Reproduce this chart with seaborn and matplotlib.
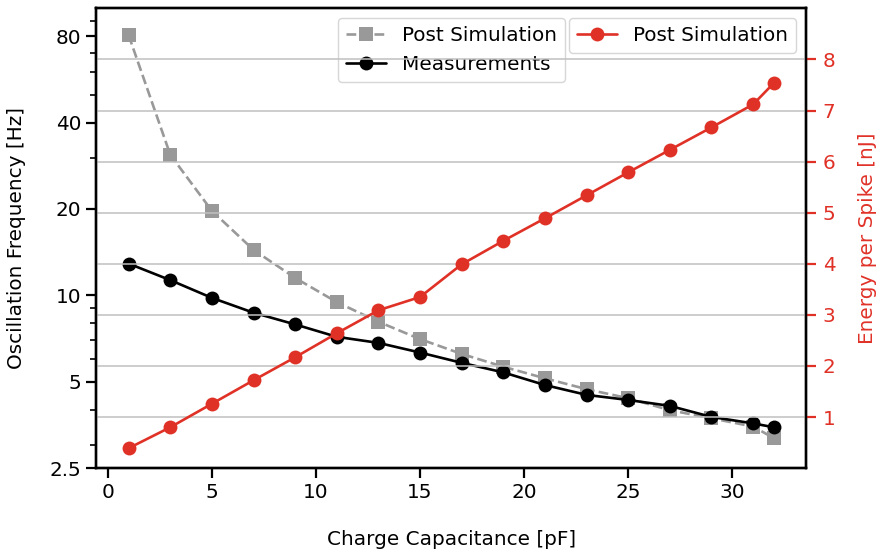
import numpy as np
import pandas as pd
import matplotlib
matplotlib.use("Agg")
import matplotlib.pyplot as plt
from matplotlib.ticker import NullFormatter, FixedLocator, LogLocator
import seaborn as sns

# Charge capacitance sweep [pF]
capacitance = [1, 3, 5, 7, 9, 11, 13, 15, 17, 19, 21, 23, 25, 27, 29, 31, 32]

# Oscillation frequency [Hz]
freq_simulation = [80.6, 30.9, 19.7, 14.4, 11.5, 9.47, 8.09, 7.04, 6.25, 5.64,
                   5.14, 4.71, 4.38, 3.98, 3.73, 3.49, 3.18]
freq_measured = [12.9, 11.3, 9.80, 8.70, 7.92, 7.17, 6.83, 6.32, 5.82, 5.39,
                 4.87, 4.50, 4.32, 4.12, 3.77, 3.58, 3.47]

# Energy per spike [nJ]
energy_simulation = [0.39, 0.80, 1.26, 1.72, 2.17, 2.64, 3.09, 3.35, 3.99, 4.45,
                     4.89, 5.34, 5.79, 6.23, 6.67, 7.12, 7.54]

freq_ticks = [2.5, 5, 10, 20, 40, 80]
freq_tick_labels = ["2.5", "5", "10", "20", "40", "80"]
energy_ticks = [1, 2, 3, 4, 5, 6, 7, 8]
x_ticks = [0, 5, 10, 15, 20, 25, 30]

RED = "#e03127"
GRAY = "#999999"
FS = 14.4

sns.set_style("ticks")
plt.rcParams["font.family"] = ["DejaVu Sans"]
plt.rcParams["font.size"] = FS
plt.rcParams["text.color"] = "black"
plt.rcParams["axes.labelcolor"] = "black"
plt.rcParams["xtick.color"] = "black"
plt.rcParams["ytick.color"] = "black"
plt.rcParams["legend.edgecolor"] = "0.8"

df = pd.DataFrame({
    "C": capacitance,
    "f_sim": freq_simulation,
    "f_meas": freq_measured,
    "E_sim": energy_simulation,
})

fig, ax1 = plt.subplots(figsize=(8.84, 5.56), dpi=100)
fig.subplots_adjust(left=0.109, right=0.912, bottom=0.158, top=0.985)

sns.lineplot(data=df, x="C", y="f_sim", ax=ax1, color=GRAY, linestyle="--",
             marker="s", markersize=10, markeredgewidth=0, linewidth=1.9,
             label="Post Simulation")
sns.lineplot(data=df, x="C", y="f_meas", ax=ax1, color="black",
             marker="o", markersize=10, markeredgewidth=0, linewidth=1.9,
             label="Measurements")

ax1.set_yscale("log")
ax1.set_ylim(2.5, 100)
ax1.yaxis.set_major_locator(FixedLocator(freq_ticks))
ax1.set_yticklabels(freq_tick_labels)
ax1.yaxis.set_minor_locator(LogLocator(base=10, subs=np.arange(2, 10)))
ax1.yaxis.set_minor_formatter(NullFormatter())
ax1.set_xticks(x_ticks)
ax1.set_xlim(-0.55, 33.55)
ax1.set_xlabel("Charge Capacitance [pF]", fontsize=FS, labelpad=20)
ax1.set_ylabel("Oscillation Frequency [Hz]", fontsize=FS, labelpad=17)
ax1.tick_params(axis="both", which="major", length=7, width=1.6,
                labelsize=FS, pad=4, color="black", labelcolor="black")
ax1.tick_params(axis="y", which="minor", length=4, width=1.2, color="black")
for sp in ax1.spines.values():
    sp.set_linewidth(1.7)
    sp.set_color("black")
ax1.legend(loc="upper center", fontsize=FS, frameon=True)

ax2 = ax1.twinx()
sns.lineplot(data=df, x="C", y="E_sim", ax=ax2, color=RED,
             marker="o", markersize=10, markeredgewidth=0, linewidth=1.9,
             label="Post Simulation")
ax2.set_ylim(0, 9)
ax2.set_yticks(energy_ticks)
ax2.set_ylabel("Energy per Spike [nJ]", color=RED, fontsize=FS, labelpad=16)
ax2.tick_params(axis="y", which="major", length=7, width=1.6, labelsize=FS,
                pad=5, colors=RED)
ax2.grid(axis="y", color="#c0c0c0", linewidth=1.1)
for sp in ax2.spines.values():
    sp.set_linewidth(1.7)
    sp.set_color("black")
ax2.legend(loc="upper right", fontsize=FS, frameon=True)
ax2.set_xlim(-0.55, 33.55)

fig.savefig("out.png", dpi=100)
